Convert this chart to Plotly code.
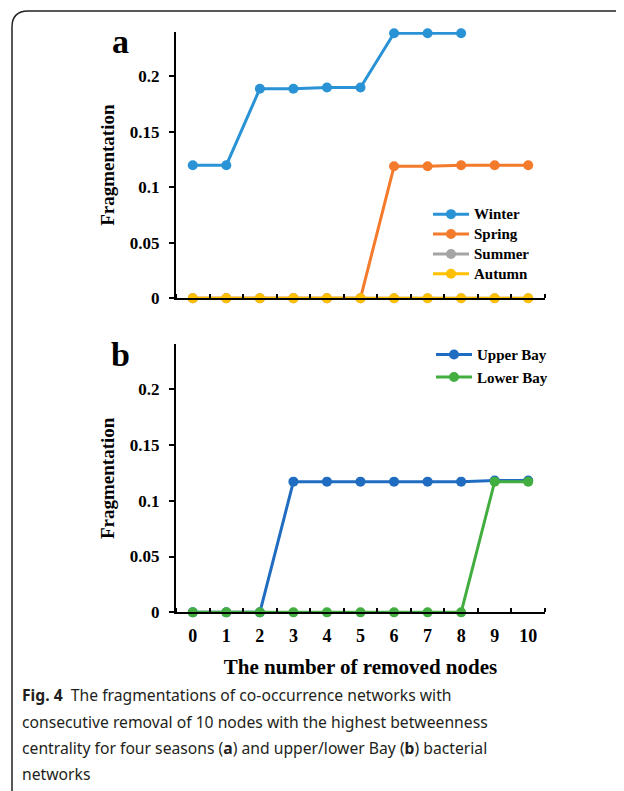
import plotly.graph_objects as go

nodes = list(range(11))
winter = [0.12, 0.12, 0.189, 0.189, 0.19, 0.19, 0.239, 0.239, 0.239]
spring = [0, 0, 0, 0, 0, 0, 0.119, 0.119, 0.12, 0.12, 0.12]
summer = [0] * 11
autumn = [0] * 11
upper_bay = [0, 0, 0, 0.117, 0.117, 0.117, 0.117, 0.117, 0.117, 0.118, 0.118]
lower_bay = [0, 0, 0, 0, 0, 0, 0, 0, 0, 0.117, 0.117]
y_ticks = [0, 0.05, 0.1, 0.15, 0.2]
y_labels = ["0", "0.05", "0.1", "0.15", "0.2"]

# page is 624x791; the browser body has an 8px margin
OFF = 8
S = 0.987
W, H = 624 - 2 * OFF, 795
def px(x): return (x - OFF) / W
def py(y): return 1 - (y / S - OFF) / H

SERIF = "Liberation Serif"

fig = go.Figure()

def add(name, label, y, color, xa, ya, legend):
    fig.add_trace(go.Scatter(
        x=nodes[:len(y)], y=y, name=label, mode="lines+markers",
        line=dict(color=color, width=3), marker=dict(color=color, size=10),
        xaxis=xa, yaxis=ya, legend=legend, cliponaxis=False))

def big(t):
    return f'<span style="font-size:15px">{t}</span>'

add("Winter", big("Winter"), winter, "#2A93D5", "x", "y", "legend")
add("Spring", big("Spring"), spring, "#F47A2C", "x", "y", "legend")
add("Summer", big("Summer"), summer, "#A5A5A5", "x", "y", "legend")
add("Autumn", big("Autumn"), autumn, "#FFC000", "x", "y", "legend")
add("Upper Bay", "Upper Bay", upper_bay, "#1F6CC0", "x2", "y2", "legend2")
add("Lower Bay", "Lower Bay", lower_bay, "#43AE40", "x2", "y2", "legend2")

xdom = [px(176), px(545)]
xcommon = dict(range=[-0.5, 10.5], domain=xdom, showgrid=False, zeroline=False,
               showline=True, linecolor="black", linewidth=2,
               ticks="", tickvals=nodes, ticktext=[str(n) for n in nodes],
               ticklabelstandoff=6,
               tickfont=dict(family=SERIF, size=18, color="black", weight="bold"),
               minor=dict(tickvals=[n - 0.5 for n in range(12)], ticks="inside",
                          ticklen=4, tickwidth=2, tickcolor="black"))
ycommon = dict(range=[0, 0.24], showgrid=False, zeroline=False,
               showline=True, linecolor="black", linewidth=2,
               ticks="outside", ticklen=5, tickwidth=2, tickcolor="black",
               tickvals=y_ticks, ticktext=y_labels, ticklabelstandoff=6,
               tickfont=dict(family=SERIF, size=17, color="black", weight="bold"),
               title=dict(text="Fragmentation", standoff=10,
                          font=dict(family=SERIF, size=19, color="black", weight="bold")))

fig.update_layout(
    width=W, height=H, margin=dict(l=0, r=0, t=0, b=0),
    paper_bgcolor="white", plot_bgcolor="white",
    xaxis=dict(xcommon, anchor="y", showticklabels=False),
    yaxis=dict(ycommon, domain=[py(298), py(32)], anchor="x"),
    xaxis2=dict(xcommon, anchor="y2",
                title=dict(text="The number of removed nodes", standoff=14,
                           font=dict(family=SERIF, size=21, color="black", weight="bold"))),
    yaxis2=dict(ycommon, domain=[py(612), py(344)], anchor="x2"),
    legend=dict(x=px(428), y=py(199), xanchor="left", yanchor="top",
                bgcolor="rgba(0,0,0,0)", tracegroupgap=0, itemwidth=36,
                font=dict(family=SERIF, size=13, color="black", weight="bold")),
    legend2=dict(x=px(431), y=py(338), xanchor="left", yanchor="top",
                 bgcolor="rgba(0,0,0,0)", tracegroupgap=0, itemwidth=36,
                 font=dict(family=SERIF, size=15, color="black", weight="bold")),
    showlegend=True,
)

# panel letters
fig.add_annotation(x=px(120), y=py(41), xref="paper", yref="paper", text="<b>a</b>",
                   showarrow=False, xanchor="center", yanchor="middle",
                   font=dict(family=SERIF, size=34, color="black"))
fig.add_annotation(x=px(120), y=py(354), xref="paper", yref="paper", text="<b>b</b>",
                   showarrow=False, xanchor="center", yanchor="middle",
                   font=dict(family=SERIF, size=34, color="black"))

# caption
cap = ["<b>Fig. 4</b>  The fragmentations of co-occurrence networks with",
       "consecutive removal of 10 nodes with the highest betweenness",
       "centrality for four seasons (<b>a</b>) and upper/lower Bay (<b>b</b>) bacterial",
       "networks"]
for i, line in enumerate(cap):
    fig.add_annotation(x=px(20), y=py(695 + 26.3 * i), xref="paper", yref="paper",
                       text=line, showarrow=False, xanchor="left", yanchor="middle",
                       font=dict(family="Noto Sans", size=15.7, color="#231F20"))

# frame
fig.add_shape(type="path", xref="paper", yref="paper",
              path=f"M {px(12)} -0.05 L {px(12)} {py(27)} Q {px(12)} {py(11)} {px(28)} {py(11)} L 1.05 {py(11)}",
              line=dict(color="#222", width=1.5))

fig.write_html("out.html")
